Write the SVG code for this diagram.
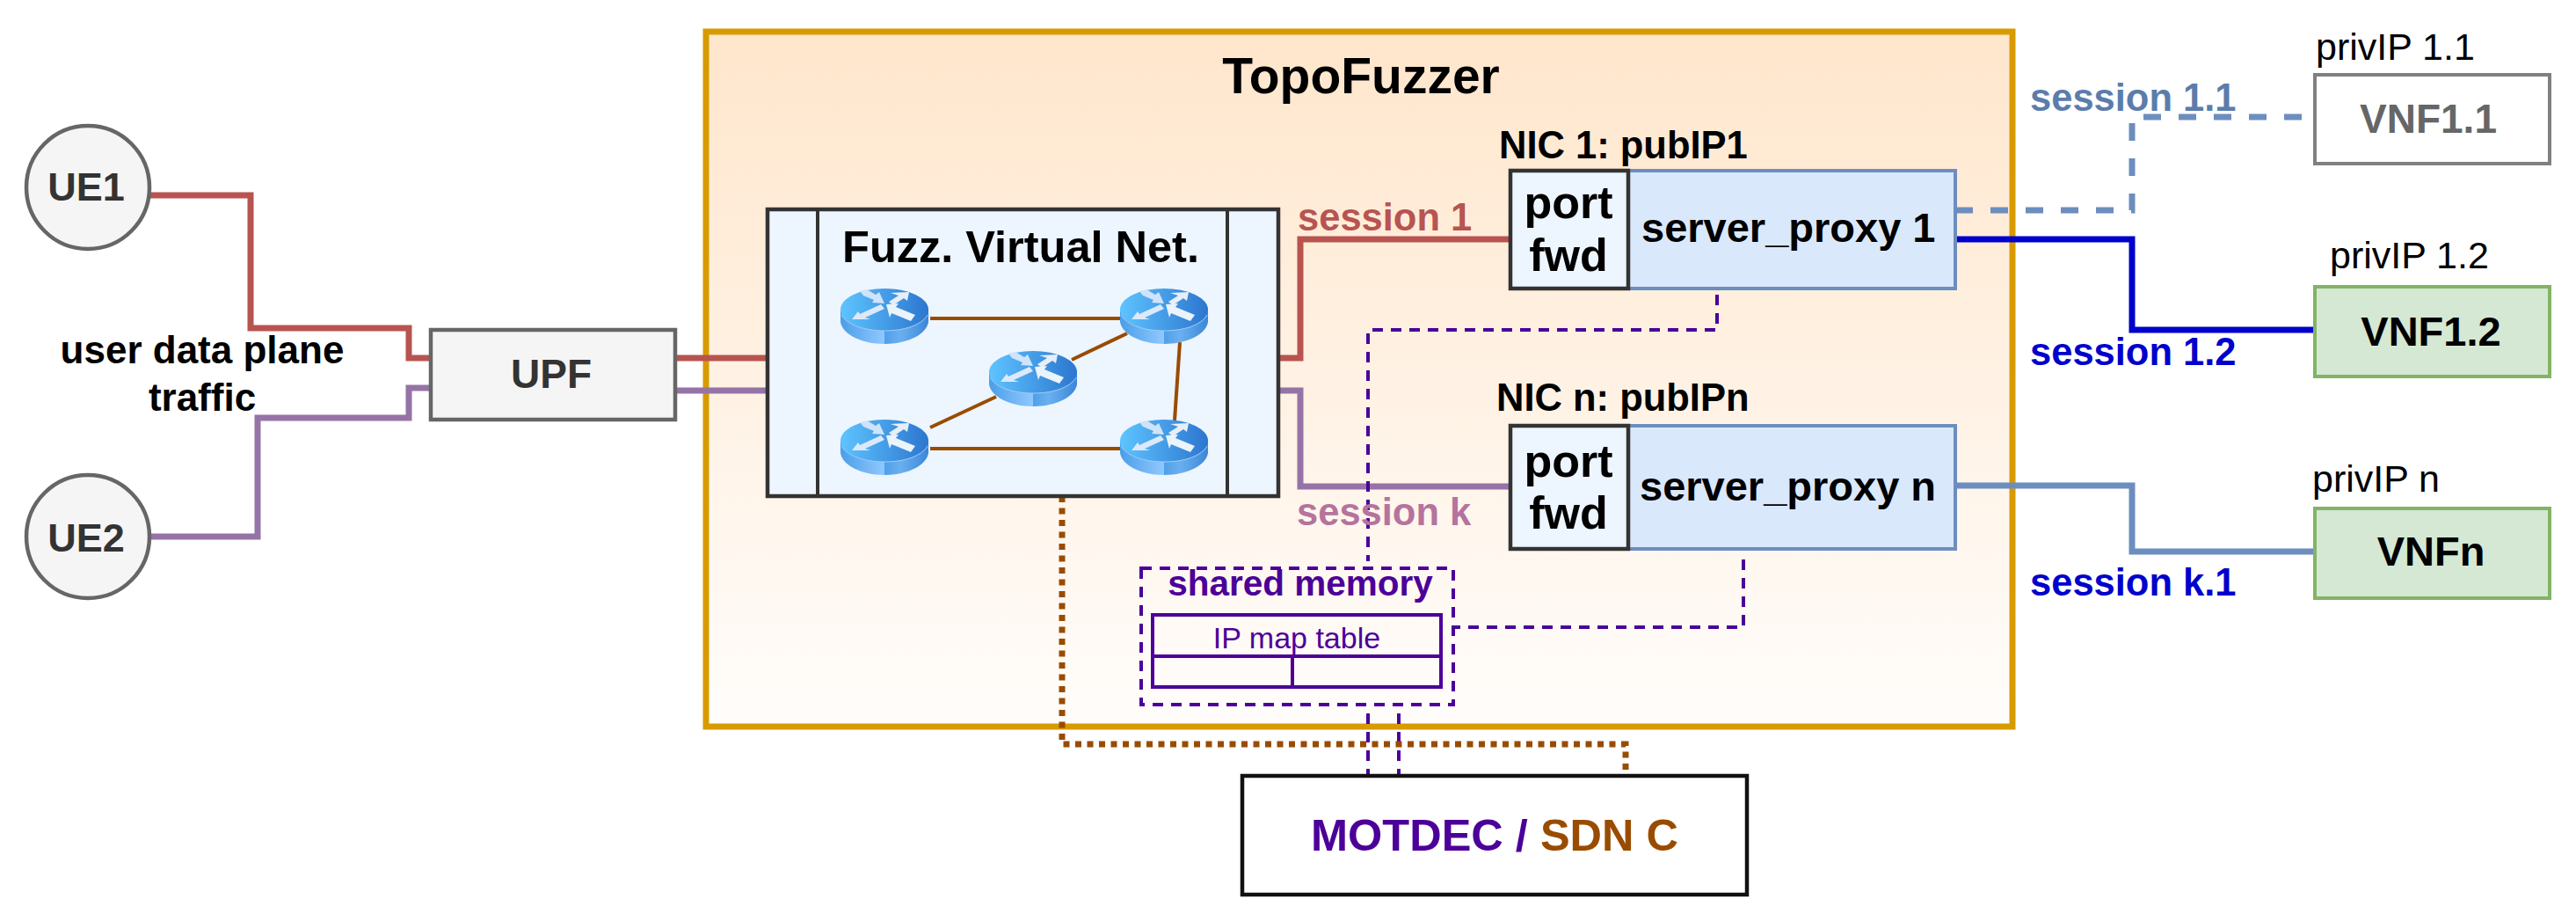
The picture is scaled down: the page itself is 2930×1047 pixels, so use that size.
<svg xmlns="http://www.w3.org/2000/svg" width="2930" height="1047" viewBox="0 0 2930 1047">
<style>
text{font-family:"Liberation Sans",Arial,sans-serif;fill:#000}
.b{font-weight:700}
.m{text-anchor:middle}
.f43{font-size:43.5px}
.f50{font-size:50.5px}
.c{fill:none;stroke-width:7}
.pd{fill:none;stroke:#4c0099;stroke-width:4;stroke-dasharray:12 9}
.br{stroke:#994c00;stroke-width:4;fill:none}
.proxy{fill:#dae8fc;stroke:#6c8ebf;stroke-width:4}
.port{fill:#edf5fe;stroke:#333;stroke-width:4.5}
.vnf{fill:#d5e8d4;stroke:#82b366;stroke-width:4}
.g{fill:#f5f5f5;stroke:#666;stroke-width:4.5}
</style>
<defs>
<linearGradient id="topo" x1="0" y1="0" x2="0" y2="1"><stop offset="0" stop-color="#ffe6cc"/><stop offset="1" stop-color="#fffdfb"/></linearGradient>
<linearGradient id="rb" x1="0" y1="0" x2="1" y2="0"><stop offset="0" stop-color="#4a9ee8"/><stop offset=".5" stop-color="#90c8ff"/><stop offset=".5" stop-color="#4f9fe8"/><stop offset=".68" stop-color="#6ab0f0"/><stop offset="1" stop-color="#3c86d8"/></linearGradient>
<linearGradient id="rt" x1="0" y1="0" x2="1" y2="0"><stop offset="0" stop-color="#5ec4ff"/><stop offset="1" stop-color="#2c76cf"/></linearGradient>
<symbol id="router" viewBox="0 0 100 63" overflow="visible">
<path d="M0,24V38C2,52 24,63 50,63S98,52 100,38V24Z" fill="url(#rb)"/>
<ellipse cx="50" cy="24" rx="50" ry="24" fill="url(#rt)"/>
<path d="M1,30C8,42 28,48 50,48S92,42 99,30" fill="none" stroke="#9ccdf8" stroke-width="1"/>
<polygon points="13,35 20,26 22,29 46,18 50,23 28,33 34,35" fill="#dbe9fb"/>
<polygon points="22,3 30,1 40,7 44,4 50,17 36,16 38,13 26,8" fill="#cfe3fa"/>
<polygon points="57,5 78,4 76,14 72,11 60,19 55,15 66,8" fill="#e6eef7"/>
<polygon points="52,18 66,17 63,21 85,30 80,37 58,28 56,33" fill="#ebf3fb"/>
</symbol>
</defs>
<rect width="2930" height="1047" fill="#fff"/>
<g id="topofuzzer">
<rect x="803" y="36" width="1486" height="790" fill="url(#topo)" stroke="#d79b00" stroke-width="7"/>
<text x="1548" y="106" class="b m" font-size="57">TopoFuzzer</text>
</g>
<g id="connectors">
<path class="c" stroke="#b85450" d="M169,222H285V373H465V407H490"/>
<path class="c" stroke="#9673a6" d="M170,610H293V475H465V441H490"/>
<path class="c" stroke="#b85450" d="M768,407H871"/>
<path class="c" stroke="#9673a6" d="M768,444H871"/>
<path class="c" stroke="#b85450" d="M1454,407H1479V272H1718"/>
<path class="c" stroke="#9673a6" d="M1454,444H1479V553H1718"/>
<path class="c" stroke="#6c8ebf" stroke-dasharray="20 20" d="M2224,239H2425V133H2633"/>
<path class="c" stroke="#0000cc" stroke-width="8" d="M2224,272H2425V375H2633"/>
<path class="c" stroke="#6c8ebf" d="M2224,552H2425V627H2633"/>
<path class="pd" d="M1953,335V375H1556V638"/>
<path class="pd" d="M1983,636V713H1653"/>
<path class="pd" d="M1556,811V882"/>
<path class="pd" d="M1591,811V882"/>
<path fill="none" stroke="#994c00" stroke-width="7" stroke-dasharray="7 6.5" d="M1208,564V846H1849V882"/>
</g>
<g id="ue1"><circle cx="100" cy="213" r="70" class="g"/><text x="98" y="228" class="b m" font-size="45" style="fill:#333">UE1</text></g>
<g id="ue2"><circle cx="100" cy="610" r="70" class="g"/><text x="98" y="627" class="b m" font-size="45" style="fill:#333">UE2</text></g>
<g id="traffic-label"><text x="230" y="413" class="b m" font-size="44">user data plane</text><text x="230" y="467" class="b m" font-size="44">traffic</text></g>
<g id="upf"><rect x="490" y="375" width="278" height="102" class="g"/><text x="627" y="441" class="b m" font-size="46" style="fill:#333">UPF</text></g>
<g id="fuzz-net">
<rect x="873" y="238" width="581" height="326" fill="#edf5fe" stroke="#333" stroke-width="4.5"/>
<path d="M930,238V564M1396,238V564" stroke="#333" stroke-width="4" fill="none"/>
<text x="1161" y="298" class="b m f50">Fuzz. Virtual Net.</text>
<path class="br" d="M1058,362H1274M1058,510H1274M1058,486L1133,451M1219,409L1282,379"/>
<path class="br" d="M1342,389L1336,478"/>
<use href="#router" x="956" y="328" width="100" height="63"/>
<use href="#router" x="1274" y="328" width="100" height="63"/>
<use href="#router" x="1125" y="399" width="100" height="63"/>
<use href="#router" x="956" y="477" width="100" height="63"/>
<use href="#router" x="1274" y="477" width="100" height="63"/>
</g>
<g id="session-labels">
<text x="1476" y="262" class="b f43" style="fill:#b85450">session 1</text>
<text x="1475" y="597" class="b f43" style="fill:#b5739d">session k</text>
<text x="2309" y="126" class="b f43" style="fill:#5b7dab">session 1.1</text>
<text x="2309" y="415" class="b f43" style="fill:#0000cc">session 1.2</text>
<text x="2309" y="677" class="b f43" style="fill:#0000cc">session k.1</text>
</g>
<g id="nic1">
<text x="1705" y="180" class="b f43">NIC 1: pubIP1</text>
<rect x="1852" y="194" width="372" height="134" class="proxy"/>
<rect x="1718" y="194" width="134" height="134" class="port"/>
<text x="1784" y="248" class="b m" font-size="52">port</text>
<text x="1784" y="308" class="b m" font-size="52">fwd</text>
<text x="1867" y="275" class="b" font-size="47">server_proxy 1</text>
</g>
<g id="nicn">
<text x="1702" y="467" class="b f43">NIC n: pubIPn</text>
<rect x="1852" y="484" width="372" height="140" class="proxy"/>
<rect x="1718" y="484" width="134" height="140" class="port"/>
<text x="1784" y="542" class="b m" font-size="52">port</text>
<text x="1784" y="601" class="b m" font-size="52">fwd</text>
<text x="1865" y="569" class="b" font-size="47">server_proxy n</text>
</g>
<g id="vnf11"><text x="2634" y="68" font-size="43">privIP 1.1</text><rect x="2633" y="85" width="267" height="101" fill="#fff" stroke="#808080" stroke-width="4"/><text x="2762" y="151" class="b m" font-size="46" style="fill:#666">VNF1.1</text></g>
<g id="vnf12"><text x="2650" y="305" font-size="43">privIP 1.2</text><rect x="2633" y="326" width="267" height="102" class="vnf"/><text x="2765" y="393" class="b m" font-size="47">VNF1.2</text></g>
<g id="vnfn"><text x="2630" y="559" font-size="43">privIP n</text><rect x="2633" y="578" width="267" height="102" class="vnf"/><text x="2765" y="643" class="b m" font-size="47">VNFn</text></g>
<g id="shared-memory">
<rect x="1298" y="646" width="355" height="155" class="pd"/>
<text x="1479" y="677" class="b m" font-size="40.5" style="fill:#4c0099">shared memory</text>
<rect x="1311" y="699" width="328" height="82" fill="none" stroke="#4c0099" stroke-width="4"/>
<path d="M1311,746H1639M1470,746V781" fill="none" stroke="#4c0099" stroke-width="4"/>
<text x="1475" y="737" class="m" font-size="34" style="fill:#4c0099">IP map table</text>
</g>
<g id="motdec">
<rect x="1413" y="882" width="574" height="135" fill="#fff" stroke="#111" stroke-width="4.5"/>
<text x="1491" y="967" class="b f50" style="fill:#4c0099">MOTDEC / <tspan style="fill:#994c00">SDN C</tspan></text>
</g>
</svg>
